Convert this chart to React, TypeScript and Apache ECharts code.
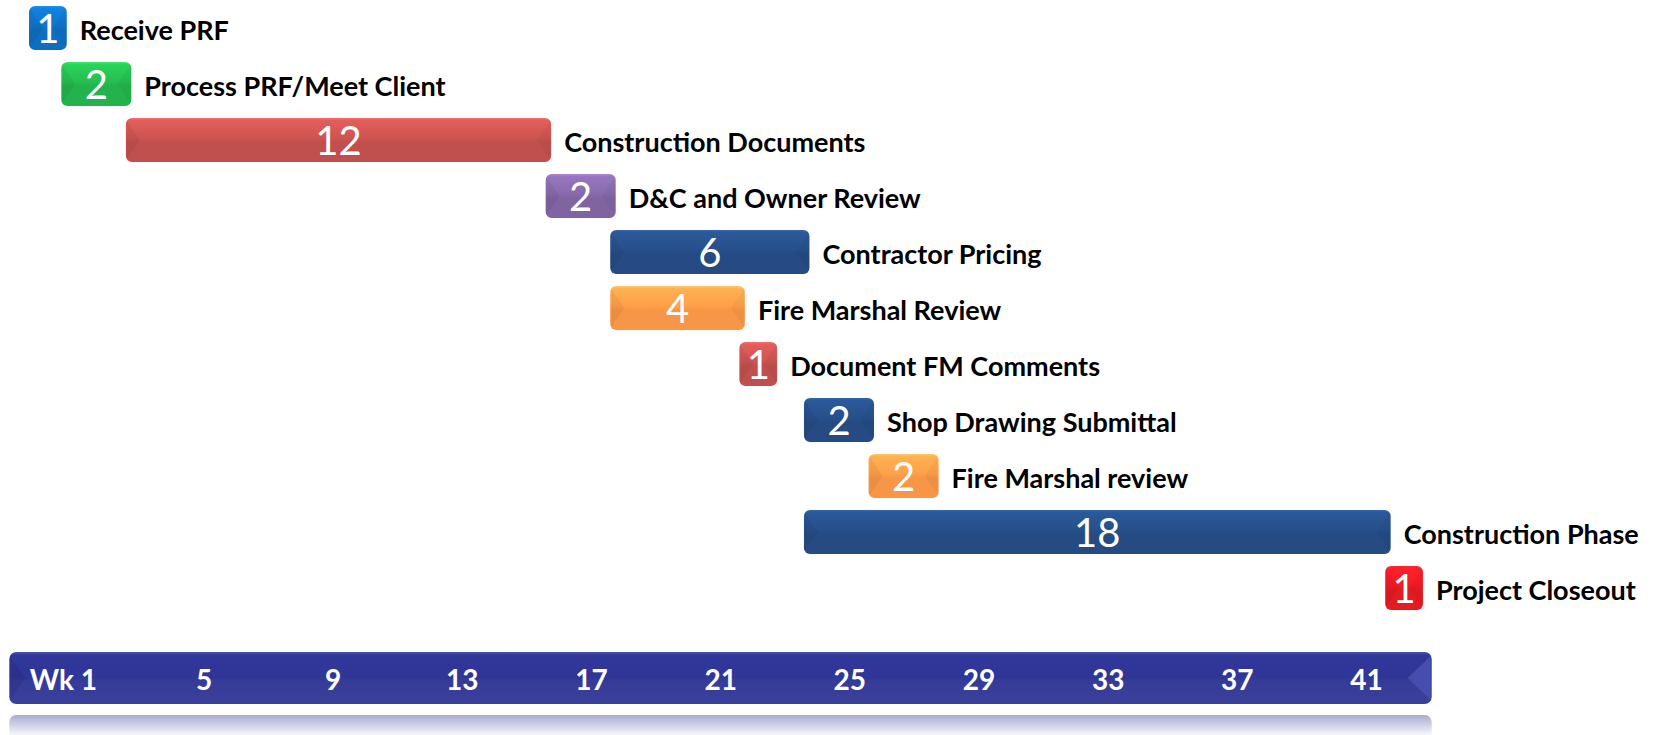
import React, { useEffect, useRef } from 'react';
import * as echarts from 'echarts';

// ---- data ----
const taskNames = [
  'Receive PRF',
  'Process PRF/Meet Client',
  'Construction Documents',
  'D&C and Owner Review',
  'Contractor Pricing',
  'Fire Marshal Review',
  'Document FM Comments',
  'Shop Drawing Submittal',
  'Fire Marshal review',
  'Construction Phase',
  'Project Closeout',
];
// weeks elapsed at bar start / bar end
const startWeek = [0, 1, 3, 16, 18, 18, 22, 24, 26, 24, 42];
const endWeek = [1, 3, 16, 18, 24, 22, 23, 26, 28, 42, 43];
// duration shown inside each bar
const durationWeeks = [1, 2, 12, 2, 6, 4, 1, 2, 2, 18, 1];
const barColors = [
  '#106EBE', '#24B24C', '#C0504D', '#8064A2', '#254B82', '#F79646',
  '#C0504D', '#254B82', '#F79646', '#254B82', '#E31B23',
];
const weekTickLabels = ['Wk 1', '5', '9', '13', '17', '21', '25', '29', '33', '37', '41'];

const UNIT = 32.29; // px per week
const FONT = 'Lato';

export default function App() {
  const ref = useRef<HTMLDivElement>(null);

  useEffect(() => {
    if (!ref.current) return;
    const chart = echarts.init(ref.current, undefined, { renderer: 'svg' });

    const renderItem = (params: any, api: any) => {
      const idx = params.dataIndex;
      const s = api.coord([api.value(0), api.value(2)]);
      const e = api.coord([api.value(1), api.value(2)]);
      const h = 44;
      const x = s[0];
      const w = e[0] - s[0] + 5.5;
      const y = s[1] - h / 2;
      const base = barColors[idx];
      const fill = new echarts.graphic.LinearGradient(0, 0, 0, 1, [
        { offset: 0, color: echarts.color.lift(base, -0.35) },
        { offset: 0.06, color: echarts.color.lift(base, -0.18) },
        { offset: 0.45, color: echarts.color.lift(base, -0.07) },
        { offset: 0.55, color: base },
        { offset: 1, color: base },
      ]);
      return {
        type: 'group',
        children: [
          {
            type: 'rect',
            shape: { x, y, width: w, height: h, r: 6 },
            style: { fill },
          },
          {
            type: 'polygon',
            shape: { points: [[x + 1, y + 3], [x + 14, y + h / 2], [x + 1, y + h - 3]] },
            style: { fill: 'rgba(0,0,0,0.05)' },
          },
          {
            type: 'polygon',
            shape: { points: [[x + w - 1, y + 3], [x + w - 14, y + h / 2], [x + w - 1, y + h - 3]] },
            style: { fill: 'rgba(0,0,0,0.035)' },
          },
          {
            type: 'text',
            x: x + w / 2,
            y: s[1],
            style: {
              text: String(api.value(3)),
              fill: '#ffffff',
              fontFamily: FONT,
              fontSize: 40,
              fontWeight: 'normal',
              align: 'center',
              verticalAlign: 'middle',
            },
          },
          {
            type: 'text',
            x: x + w + 13,
            y: s[1] + 1,
            style: {
              text: taskNames[idx],
              fill: '#000000',
              fontFamily: FONT,
              fontSize: 27,
              fontWeight: 'bold',
              align: 'left',
              verticalAlign: 'middle',
            },
          },
        ],
      };
    };

    const bandX = 9.3;
    const bandW = 1422.4;

    const option: any = {
      animation: false,
      grid: [
        { left: 29, top: 0, width: 50 * UNIT, height: 616 },
        { left: 29 + 1.42 * UNIT, top: 670, width: 42 * UNIT, height: 9 },
      ],
      xAxis: [
        { type: 'value', gridIndex: 0, min: 0, max: 50, show: false },
        {
          type: 'value',
          gridIndex: 1,
          min: 0,
          max: 42,
          interval: 4,
          axisLine: { show: false },
          axisTick: { show: false },
          splitLine: { show: false },
          axisLabel: {
            margin: 0,
            verticalAlign: 'middle',
            color: '#ffffff',
            fontFamily: FONT,
            fontWeight: 'bold',
            fontSize: 28,
            showMaxLabel: false,
            formatter: (v: number) => {
              const i = Math.round(v / 4);
              if (v % 4 !== 0) return '';
              if (i === 0) return '{first|' + weekTickLabels[0] + '}';
              return weekTickLabels[i] ?? '';
            },
            rich: {
              first: {
                padding: [0, 23, 0, 0],
                color: '#ffffff',
                fontFamily: FONT,
                fontWeight: 'bold',
                fontSize: 28,
              },
            },
          },
        },
      ],
      yAxis: [
        { type: 'category', gridIndex: 0, data: taskNames, inverse: true, show: false },
        { type: 'value', gridIndex: 1, show: false },
      ],
      graphic: [
        {
          type: 'rect',
          z: -10,
          shape: { x: bandX, y: 715, width: bandW, height: 22, r: [7, 7, 0, 0] },
          style: {
            fill: new echarts.graphic.LinearGradient(0, 0, 0, 1, [
              { offset: 0, color: '#A9ABCF' },
              { offset: 0.5, color: '#D3D4E8' },
              { offset: 1, color: '#FFFFFF' },
            ]),
          },
        },
        {
          type: 'rect',
          z: -10,
          shape: { x: bandX, y: 652, width: bandW, height: 52, r: 7 },
          style: {
            fill: new echarts.graphic.LinearGradient(0, 0, 0, 1, [
              { offset: 0, color: '#4A51AE' },
              { offset: 0.06, color: '#30379A' },
              { offset: 0.5, color: '#2F3696' },
              { offset: 0.55, color: '#353B98' },
              { offset: 1, color: '#3A409A' },
            ]),
          },
        },
        {
          type: 'polygon',
          z: -9,
          shape: { points: [[bandX + bandW - 1, 656], [bandX + bandW - 24, 678], [bandX + bandW - 1, 700]] },
          style: { fill: '#464DAE' },
        },
        {
          type: 'polygon',
          z: -9,
          shape: { points: [[bandX + 1, 657], [bandX + 16, 678], [bandX + 1, 699]] },
          style: { fill: 'rgba(0,0,0,0.08)' },
        },
      ],
      series: [
        {
          type: 'custom',
          xAxisIndex: 0,
          yAxisIndex: 0,
          renderItem,
          encode: { x: [0, 1], y: 2 },
          data: taskNames.map((_, i) => [startWeek[i], endWeek[i], i, durationWeeks[i]]),
        },
      ],
    };

    chart.setOption(option);
    return () => chart.dispose();
  }, []);

  return (
    <div
      ref={ref}
      style={{ position: 'fixed', left: 0, top: 0, width: 1654, height: 735, background: '#ffffff' }}
    />
  );
}
